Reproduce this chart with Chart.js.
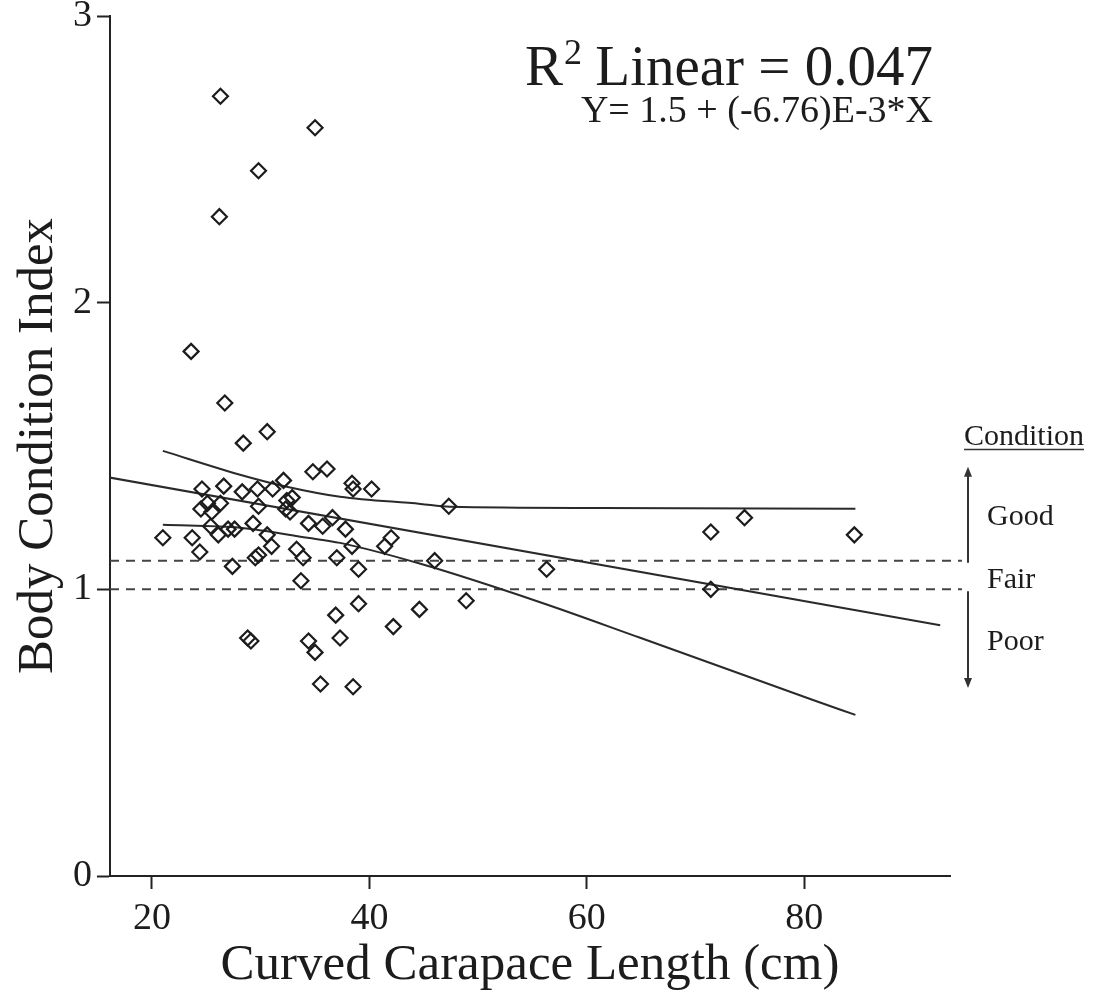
<!DOCTYPE html>
<html>
<head>
<meta charset="utf-8">
<title>Body Condition Index vs Curved Carapace Length</title>
<script src="https://cdn.jsdelivr.net/npm/chart.js@4.4.0/dist/chart.umd.min.js"></script>
<style>
    html, body { margin: 0; padding: 0; background: #fff; }
    #wrap { width: 1093px; height: 996px; position: relative; }
</style>
</head>
<body>
<div id="wrap"><canvas id="bciChart"></canvas></div>
<script>
// Turtles: curved carapace length (cm) and body condition index
const cclValues = [
    26.3, 35.0, 29.8, 26.2, 23.6, 26.7, 28.4, 30.6, 21.0, 24.6,
    26.6, 28.3, 29.7, 31.1, 32.1, 24.5, 25.1, 26.3, 25.5, 29.8,
    32.4, 32.9, 32.3, 32.7, 25.4, 26.1, 27.0, 27.6, 29.3, 30.6,
    23.7, 24.4, 31.0, 29.5, 29.8, 27.4, 33.3, 33.9, 34.8, 36.1,
    38.4, 38.5, 40.2, 47.3, 34.4, 35.7, 36.6, 37.8, 42.0, 41.4,
    38.4, 37.0, 39.0, 46.0, 33.7, 39.0, 36.9, 37.3, 42.2, 44.6,
    48.9, 56.3, 34.4, 35.0, 35.5, 38.5, 28.8, 29.1, 74.5, 71.4,
    84.6, 71.4
];
const bciValues = [
    2.72, 2.61, 2.46, 2.30, 1.83, 1.65, 1.51, 1.55, 1.18, 1.35,
    1.36, 1.34, 1.35, 1.35, 1.38, 1.28, 1.30, 1.30, 1.27, 1.29,
    1.31, 1.32, 1.28, 1.27, 1.22, 1.19, 1.21, 1.21, 1.23, 1.19,
    1.18, 1.13, 1.15, 1.11, 1.12, 1.08, 1.14, 1.11, 1.41, 1.42,
    1.37, 1.35, 1.35, 1.29, 1.23, 1.22, 1.25, 1.21, 1.18, 1.15,
    1.15, 1.11, 1.07, 1.10, 1.03, 0.95, 0.91, 0.83, 0.87, 0.93,
    0.96, 1.07, 0.82, 0.78, 0.67, 0.66, 0.83, 0.82, 1.25, 1.20,
    1.19, 1.00
];

// linear fit and its 95% confidence band
const fitX = [16.1, 92.5];
const fitY = [1.39, 0.875];
const upperX = [21.0, 28.1, 32.4, 37.3, 44.7, 47.4, 61.2, 84.7];
const upperY = [1.483, 1.400, 1.358, 1.323, 1.298, 1.288, 1.284, 1.281];
const lowerX = [21.0, 28.1, 34.3, 37.3, 44.7, 55.7, 64.9, 80.8, 84.7];
const lowerY = [1.225, 1.215, 1.180, 1.162, 1.089, 0.955, 0.831, 0.614, 0.562];

// condition cut-offs
const fairLimit = 1.1;
const poorLimit = 1.0;
const cutoffX = [16.14, 94.5];

const xMin = 16.14, xMax = 93.4;
const yMin = 0, yMax = 3;
const xStep = 20, yStep = 1;

const conditionTitle = 'Condition';
const conditionLabels = ['Good', 'Fair', 'Poor'];
const r2Text = 'Linear = 0.047';
const equationText = 'Y= 1.5 + (-6.76)E-3*X';

const serif = "'Liberation Serif', 'Times New Roman', Times, serif";
const ink = '#1c1c1c';

const toPoints = (xs, ys) => xs.map((x, i) => ({ x: x, y: ys[i] }));

// Text and arrows in the top right and on the right margin
const notesPlugin = {
    id: 'bciNotes',
    afterDraw(chart) {
        const ctx = chart.ctx;
        const y = chart.scales.y;
        ctx.save();
        ctx.fillStyle = ink;
        ctx.strokeStyle = '#333';
        ctx.textBaseline = 'alphabetic';

        // R² Linear = 0.047
        const right = 933;
        ctx.font = '57px ' + serif;
        const wR = ctx.measureText('R').width;
        const wRest = ctx.measureText(' ' + r2Text).width;
        ctx.font = '36px ' + serif;
        const w2 = ctx.measureText('2').width;
        let start = right - (wR + w2 + wRest);
        ctx.font = '57px ' + serif;
        ctx.fillText('R', start, 85);
        ctx.font = '36px ' + serif;
        ctx.fillText('2', start + wR + 1, 64);
        ctx.font = '57px ' + serif;
        ctx.fillText(' ' + r2Text, start + wR + w2, 85);

        ctx.font = '38px ' + serif;
        ctx.textAlign = 'right';
        ctx.fillText(equationText, right, 122);

        // Condition legend
        ctx.font = '30px ' + serif;
        ctx.textAlign = 'center';
        ctx.fillText(conditionTitle, 1024, 445);
        const wc = ctx.measureText(conditionTitle).width;
        ctx.lineWidth = 1.5;
        ctx.beginPath();
        ctx.moveTo(1024 - wc / 2, 449.5);
        ctx.lineTo(1024 + wc / 2, 449.5);
        ctx.stroke();

        ctx.textAlign = 'left';
        ctx.fillText(conditionLabels[0], 987, 525);
        ctx.fillText(conditionLabels[1], 987, 588);
        ctx.fillText(conditionLabels[2], 987, 650);

        // arrows
        const ax = 968;
        const topTip = y.getPixelForValue(1.428);
        const upEnd = y.getPixelForValue(fairLimit) + 2;
        const downStart = y.getPixelForValue(poorLimit) + 2;
        const bottomTip = y.getPixelForValue(0.656);
        ctx.lineWidth = 2;
        ctx.beginPath();
        ctx.moveTo(ax, topTip + 8);
        ctx.lineTo(ax, upEnd);
        ctx.moveTo(ax, downStart);
        ctx.lineTo(ax, bottomTip - 8);
        ctx.stroke();
        ctx.fillStyle = '#333';
        ctx.beginPath();
        ctx.moveTo(ax, topTip);
        ctx.lineTo(ax - 4, topTip + 10);
        ctx.lineTo(ax + 4, topTip + 10);
        ctx.closePath();
        ctx.fill();
        ctx.beginPath();
        ctx.moveTo(ax, bottomTip);
        ctx.lineTo(ax - 4, bottomTip - 10);
        ctx.lineTo(ax + 4, bottomTip - 10);
        ctx.closePath();
        ctx.fill();
        ctx.restore();
    }
};

const lineStyle = {
    type: 'line',
    borderColor: '#2a2a2a',
    borderWidth: 2,
    pointRadius: 0,
    fill: false
};

const bciChart = new Chart(document.getElementById('bciChart'), {
    type: 'scatter',
    data: {
        datasets: [
            {
                label: 'Turtles',
                data: toPoints(cclValues, bciValues),
                pointStyle: 'rectRot',
                pointRadius: 7.5,
                pointHoverRadius: 7.5,
                borderWidth: 2.2,
                borderColor: ink,
                backgroundColor: 'rgba(0,0,0,0)'
            },
            Object.assign({ label: 'Linear fit', data: toPoints(fitX, fitY) }, lineStyle),
            Object.assign({ label: 'Upper 95% CI', data: toPoints(upperX, upperY), cubicInterpolationMode: 'monotone' }, lineStyle),
            Object.assign({ label: 'Lower 95% CI', data: toPoints(lowerX, lowerY), cubicInterpolationMode: 'monotone' }, lineStyle),
            Object.assign({}, lineStyle, {
                label: 'Fair limit',
                data: toPoints(cutoffX, [fairLimit, fairLimit]),
                borderColor: '#444',
                borderDash: [9, 7],
                clip: false
            }),
            Object.assign({}, lineStyle, {
                label: 'Poor limit',
                data: toPoints(cutoffX, [poorLimit, poorLimit]),
                borderColor: '#444',
                borderDash: [9, 7],
                clip: false
            })
        ]
    },
    options: {
        responsive: true,
        maintainAspectRatio: false,
        animation: false,
        layout: {
            padding: { top: 16, right: 143, left: 0, bottom: 0 }
        },
        plugins: {
            legend: { display: false },
            tooltip: { enabled: false }
        },
        scales: {
            x: {
                type: 'linear',
                min: xMin,
                max: xMax,
                afterFit: (scale) => {
                    scale.height = 120;
                    scale.paddingLeft = 0;
                    scale.paddingRight = 0;
                },
                border: { display: true, color: '#222', width: 2 },
                grid: {
                    drawOnChartArea: false,
                    drawTicks: true,
                    tickLength: 13,
                    tickWidth: 2,
                    tickColor: '#222'
                },
                ticks: {
                    stepSize: xStep,
                    includeBounds: false,
                    padding: 7,
                    color: ink,
                    font: { family: serif, size: 38 }
                },
                title: {
                    display: true,
                    text: 'Curved Carapace Length (cm)',
                    color: ink,
                    padding: { top: 0, bottom: 0 },
                    font: { family: serif, size: 51 }
                }
            },
            y: {
                type: 'linear',
                min: yMin,
                max: yMax,
                afterFit: (scale) => {
                    scale.width = 110;
                    scale.paddingTop = 0;
                    scale.paddingBottom = 0;
                },
                border: { display: true, color: '#222', width: 2 },
                grid: {
                    drawOnChartArea: false,
                    drawTicks: true,
                    tickLength: 13,
                    tickWidth: 2,
                    tickColor: '#222'
                },
                ticks: {
                    stepSize: yStep,
                    padding: 5,
                    color: ink,
                    font: { family: serif, size: 38 }
                },
                title: {
                    display: true,
                    text: 'Body Condition Index',
                    color: ink,
                    padding: { top: 8, bottom: 0 },
                    font: { family: serif, size: 51 }
                }
            }
        }
    },
    plugins: [notesPlugin]
});
</script>
</body>
</html>
